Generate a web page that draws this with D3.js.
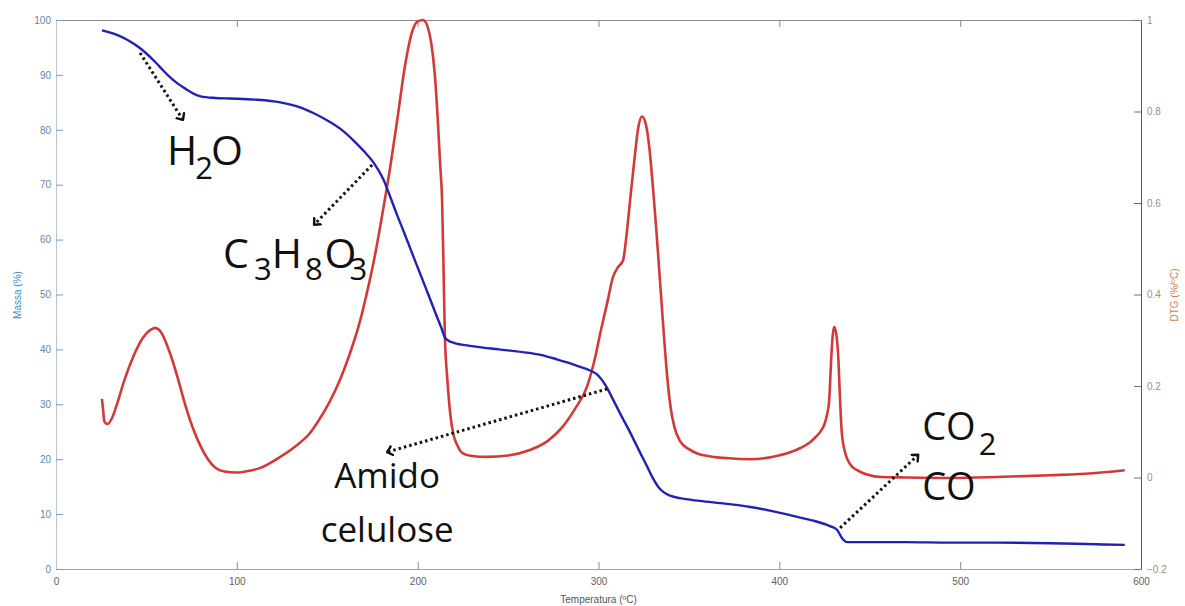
<!DOCTYPE html>
<html>
<head>
<meta charset="utf-8">
<script src="https://cdn.jsdelivr.net/npm/d3@7"></script>
<style>
  html, body { margin: 0; padding: 0; background: #fff; }
  svg { display: block; }
  .tick text { font-family: "Liberation Sans", Arial, sans-serif; font-size: 10px; }
  .ann { font-family: "Open Sans", sans-serif; fill: #111; }
</style>
</head>
<body>
<svg id="chart" width="1185" height="606"></svg>
<script>
// Temperature (ºC) and residual mass (%) – TGA curve
const massTemp = [25.4, 30, 35, 41, 46, 50, 55, 59, 63, 67,
  72, 76, 80, 88, 96, 110, 124, 135, 142, 150,
  158.7, 165, 170, 175, 178, 181, 184.7, 188.6, 192, 196,
  201, 206, 210, 213, 215, 217.5, 220, 230, 245, 258,
  268, 277, 284, 290, 295, 299, 304, 308, 312, 317,
  320, 323, 327, 330, 333, 336, 340, 345, 356, 370,
  384, 398, 411, 420, 428, 432, 434.7, 437.5, 445, 470,
  494, 520, 550, 575, 591];
const massValues = [98.1, 97.7, 97.1, 96.1, 95.0, 93.9, 92.3, 90.9, 89.6, 88.5,
  87.4, 86.6, 86.1, 85.8, 85.7, 85.5, 85.0, 84.1, 83.1, 81.7,
  79.8, 77.9, 76.2, 74.3, 72.8, 71.0, 67.9, 64.5, 61.7, 58.3,
  54.1, 49.9, 46.5, 44.0, 42.2, 41.5, 41.2, 40.6, 40.0, 39.5,
  39.0, 38.2, 37.5, 36.8, 36.2, 35.5, 33.4, 30.9, 28.3, 25.2,
  23.2, 21.2, 18.6, 16.6, 15.0, 14.0, 13.3, 12.9, 12.4, 11.9,
  11.3, 10.4, 9.4, 8.7, 7.8, 7.1, 5.6, 4.9, 4.9, 4.9,
  4.8, 4.8, 4.7, 4.5, 4.4];

// Temperature (ºC) and derivative mass loss (%/ºC) – DTG curve
const dtgTemp = [25.4, 26, 26.8, 28.5, 31, 33.7, 38, 42.6, 48, 52,
  54.8, 58, 63, 67, 71, 76, 80, 84, 88, 93,
  100, 106, 113, 124, 133, 140, 145, 151, 157, 162,
  168, 172, 176.4, 180, 185, 189, 193, 197, 200, 203,
  205.5, 207.5, 209.5, 211, 212.5, 213.5, 214.3, 215, 216.5, 218,
  219.6, 222, 224.6, 230, 238, 250, 262, 272, 280, 287,
  293.6, 298, 301, 305, 308, 310.5, 313.6, 315.5, 317.5, 320,
  322, 324, 326, 328, 330, 332, 334, 336, 338, 340,
  342, 345, 350, 355, 362, 372, 384, 396, 406, 412,
  417, 420, 423, 425, 426.5, 427.6, 428.7, 429.5, 430.3, 431.2,
  432.5, 433.6, 434.5, 436.4, 439, 443, 449, 456, 470, 494.5,
  520, 550, 575, 591];
const dtgValues = [0.172, 0.150, 0.122, 0.117, 0.130, 0.160, 0.215, 0.263, 0.305, 0.322,
  0.327, 0.318, 0.272, 0.222, 0.165, 0.105, 0.068, 0.040, 0.022, 0.013,
  0.011, 0.014, 0.021, 0.045, 0.070, 0.095, 0.123, 0.163, 0.213, 0.265,
  0.340, 0.405, 0.486, 0.565, 0.683, 0.790, 0.900, 0.975, 0.997, 1.000,
  0.985, 0.950, 0.880, 0.790, 0.680, 0.607, 0.460, 0.316, 0.210, 0.140,
  0.097, 0.070, 0.054, 0.047, 0.045, 0.048, 0.060, 0.080, 0.110, 0.150,
  0.198, 0.260, 0.316, 0.385, 0.438, 0.458, 0.475, 0.530, 0.607, 0.700,
  0.765, 0.789, 0.775, 0.725, 0.640, 0.540, 0.430, 0.320, 0.220, 0.150,
  0.110, 0.080, 0.062, 0.052, 0.046, 0.042, 0.040, 0.045, 0.055, 0.065,
  0.077, 0.088, 0.102, 0.117, 0.140, 0.170, 0.260, 0.310, 0.329, 0.320,
  0.270, 0.169, 0.100, 0.054, 0.030, 0.016, 0.006, 0.001, 0.000, -0.001,
  0.001, 0.005, 0.010, 0.016];

// Axis ticks
const tempTicks = [0, 100, 200, 300, 400, 500, 600];
const massTicks = [0, 10, 20, 30, 40, 50, 60, 70, 80, 90, 100];
const dtgTicks = [-0.2, 0, 0.2, 0.4, 0.6, 0.8, 1];

// Arrows [T0, mass0, T1, mass1] in data units (arrowhead at the second point)
const arrows = [
  [46.5, 94.0, 70.2, 81.8],
  [174.8, 73.6, 142.7, 62.7],
  [304.8, 32.8, 183.1, 21.3],
  [433.6, 7.5, 476.8, 20.8]
];

const svg = d3.select("#chart");
const plotLeft = 56, plotRight = 1141, plotTop = 20, plotBottom = 569;

const x = d3.scaleLinear().domain([0, 600]).range([plotLeft, plotRight]);
const yMass = d3.scaleLinear().domain([0, 100]).range([plotBottom, plotTop]);
const yDtg = d3.scaleLinear().domain([-0.2, 1]).range([plotBottom, plotTop]);

// Axes (ticks point inward, box around the plot)
const fmt = d3.format("");
const gTop = svg.append("g").attr("transform", `translate(0,${plotTop})`)
  .call(d3.axisTop(x).tickValues(tempTicks).tickSize(-7).tickSizeOuter(0).tickFormat(""));
gTop.select(".domain").attr("stroke", "#8a8a8a");
gTop.selectAll(".tick line").attr("stroke", "#8a8a8a");

const gBottom = svg.append("g").attr("transform", `translate(0,${plotBottom})`)
  .call(d3.axisBottom(x).tickValues(tempTicks).tickSize(-7).tickSizeOuter(0).tickPadding(9).tickFormat(fmt));
gBottom.select(".domain").attr("stroke", "#a0a0a0");
gBottom.selectAll(".tick line").attr("stroke", "#8a8a8a");
gBottom.selectAll(".tick text").attr("fill", "#606060");

const gLeft = svg.append("g").attr("transform", `translate(${plotLeft},0)`)
  .call(d3.axisLeft(yMass).tickValues(massTicks).tickSize(-7).tickSizeOuter(0).tickPadding(5).tickFormat(fmt));
gLeft.select(".domain").attr("stroke", "#b8c8d4");
gLeft.selectAll(".tick line").attr("stroke", "#7d9bb3");
gLeft.selectAll(".tick text").attr("fill", "#5f88a8");

const gRight = svg.append("g").attr("transform", `translate(${plotRight},0)`)
  .call(d3.axisRight(yDtg).tickValues(dtgTicks).tickSize(-7).tickSizeOuter(0).tickPadding(6).tickFormat(d3.format("")));
gRight.select(".domain").attr("stroke", "#5a5a5a");
gRight.selectAll(".tick line").attr("stroke", "#707070");
gRight.selectAll(".tick text").attr("fill", "#a88a78");

// Axis titles
svg.append("text")
  .attr("transform", "translate(21,295) rotate(-90)")
  .attr("text-anchor", "middle")
  .style("font-family", "Liberation Sans, Arial, sans-serif").style("font-size", "10px")
  .attr("fill", "#3a8cc8").text("Massa (%)");
svg.append("text")
  .attr("transform", "translate(1178,295) rotate(-90)")
  .attr("text-anchor", "middle")
  .style("font-family", "Liberation Sans, Arial, sans-serif").style("font-size", "10px")
  .attr("fill", "#cf7f4c").text("DTG (%/ºC)");
svg.append("text")
  .attr("x", (plotLeft + plotRight) / 2).attr("y", 603)
  .attr("text-anchor", "middle")
  .style("font-family", "Liberation Sans, Arial, sans-serif").style("font-size", "10px")
  .attr("fill", "#555").text("Temperatura (ºC)");

// Curves
const massLine = d3.line().curve(d3.curveMonotoneX)
  .x((d, i) => x(massTemp[i])).y(d => yMass(d));
const dtgLine = d3.line().curve(d3.curveMonotoneX)
  .x((d, i) => x(dtgTemp[i])).y(d => yDtg(d));

svg.append("path").datum(dtgValues)
  .attr("d", dtgLine).attr("fill", "none")
  .attr("stroke", "#d23a3a").attr("stroke-width", 2.6).attr("stroke-linejoin", "round");
svg.append("path").datum(massValues)
  .attr("d", massLine).attr("fill", "none")
  .attr("stroke", "#2222b2").attr("stroke-width", 2.4).attr("stroke-linejoin", "round");

// Arrowhead marker
svg.append("defs").append("marker")
  .attr("id", "head").attr("viewBox", "-6 -6 12 12")
  .attr("refX", 0).attr("refY", 0)
  .attr("markerWidth", 12).attr("markerHeight", 12)
  .attr("markerUnits", "userSpaceOnUse")
  .attr("orient", "auto")
  .append("path").attr("d", "M-5,-4.5 L0,0 L-5,4.5")
  .attr("fill", "none").attr("stroke", "#111").attr("stroke-width", 2.4)
  .attr("stroke-linecap", "round").attr("stroke-linejoin", "round");

svg.append("g").selectAll("line").data(arrows).join("line")
  .attr("x1", d => x(d[0])).attr("y1", d => yMass(d[1]))
  .attr("x2", d => x(d[2])).attr("y2", d => yMass(d[3]))
  .attr("stroke", "#111").attr("stroke-width", 3)
  .attr("stroke-dasharray", "2.5,3")
  .attr("marker-end", "url(#head)");

// Chemical labels
function formula(tx, tm, size, parts) {
  const t = svg.append("text").attr("class", "ann")
    .attr("x", x(tx)).attr("y", yMass(tm)).style("font-size", size + "px");
  parts.forEach(p => {
    t.append("tspan").text(p.s)
      .style("font-size", (p.sub ? p.sub : size) + "px")
      .attr("dx", p.dx || 0).attr("dy", p.dy || 0);
  });
}
formula(61.4, 73.6, 41, [
  {s: "H"}, {s: "2", sub: 31, dx: -2, dy: 14}, {s: "O", dx: -2, dy: -14}
]);
formula(92.4, 54.8, 41, [
  {s: "C"}, {s: "3", sub: 31, dx: 5, dy: 12}, {s: "H", dy: -12},
  {s: "8", sub: 31, dx: 3, dy: 12}, {s: "O", dx: 2, dy: -12},
  {s: "3", sub: 31, dx: -7, dy: 12}
]);
formula(479, 23.5, 38, [
  {s: "CO"}, {s: "2", sub: 31, dx: 3, dy: 15}
]);
formula(479, 12.6, 38, [{s: "CO"}]);

svg.append("text").attr("class", "ann").attr("text-anchor", "middle")
  .attr("x", x(183.1)).attr("y", yMass(14.75)).style("font-size", "35px").text("Amido");
svg.append("text").attr("class", "ann").attr("text-anchor", "middle")
  .attr("x", x(183.1)).attr("y", yMass(4.9)).style("font-size", "35px").text("celulose");
</script>
</body>
</html>
